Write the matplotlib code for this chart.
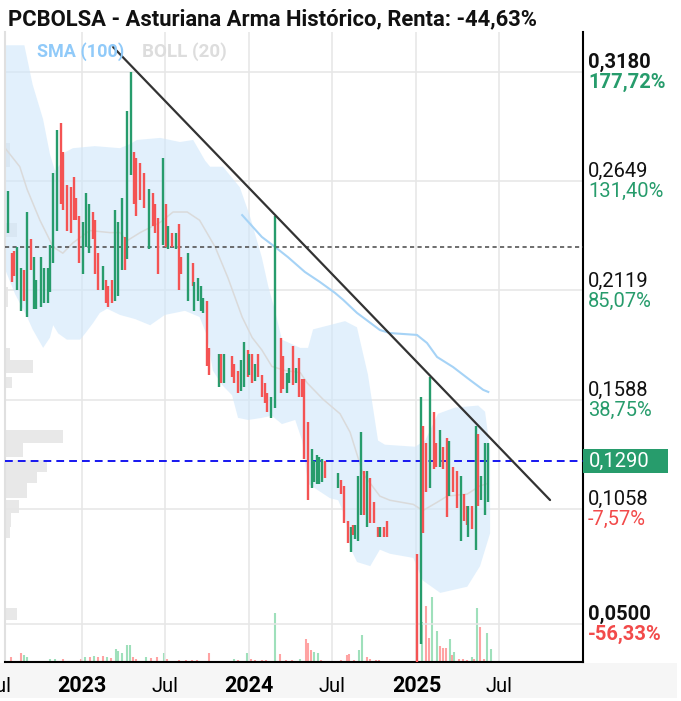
import numpy as np
import pandas as pd
import matplotlib
matplotlib.use('Agg')
import matplotlib.pyplot as plt
import matplotlib.dates as mdates
import matplotlib.transforms as mtransforms
from matplotlib.patches import Rectangle

plt.rcParams['font.family'] = ['Roboto', 'DejaVu Sans']

# ---- velas (fecha, apertura, cierre) ----
candle_dates = [
    '2022-07-24', '2022-08-02', '2022-08-05', '2022-08-12', '2022-08-21', '2022-08-28', '2022-09-03', '2022-09-11',
    '2022-09-19', '2022-09-23', '2022-10-03', '2022-10-10', '2022-10-19', '2022-10-23', '2022-10-30', '2022-11-08',
    '2022-11-16', '2022-11-20', '2022-11-29', '2022-12-07', '2022-12-15', '2022-12-19', '2022-12-25', '2023-01-04',
    '2023-01-10', '2023-01-17', '2023-01-24', '2023-01-29', '2023-02-06', '2023-02-15', '2023-02-22', '2023-02-27',
    '2023-03-07', '2023-03-14', '2023-03-21', '2023-03-29', '2023-04-05', '2023-04-09', '2023-04-17', '2023-04-25',
    '2023-04-29', '2023-05-08', '2023-05-17', '2023-05-28', '2023-06-05', '2023-06-10', '2023-06-17', '2023-06-26',
    '2023-07-04', '2023-07-09', '2023-07-16', '2023-07-25', '2023-08-01', '2023-08-05', '2023-08-21', '2023-08-31',
    '2023-09-03', '2023-09-12', '2023-09-18', '2023-09-23', '2023-10-01', '2023-10-06', '2023-10-27', '2023-11-01',
    '2023-11-08', '2023-11-24', '2023-11-30', '2023-12-07', '2023-12-15', '2023-12-22', '2023-12-29', '2024-01-01',
    '2024-01-08', '2024-01-13', '2024-01-20', '2024-01-29', '2024-02-05', '2024-02-09', '2024-02-18', '2024-02-27',
    '2024-03-10', '2024-03-16', '2024-03-23', '2024-03-29', '2024-04-07', '2024-04-12', '2024-04-19', '2024-04-25',
    '2024-05-01', '2024-05-10', '2024-05-17', '2024-05-22', '2024-05-28', '2024-06-02', '2024-06-08', '2024-06-15',
    '2024-07-14', '2024-07-20', '2024-07-27', '2024-08-04', '2024-08-11', '2024-08-16', '2024-08-20', '2024-08-26',
    '2024-09-02', '2024-09-09', '2024-09-14', '2024-09-22', '2024-10-01', '2024-10-10', '2024-10-13', '2024-10-21',
    '2024-10-29', '2025-01-03', '2025-01-10', '2025-01-16', '2025-01-22', '2025-01-31', '2025-02-08', '2025-02-13',
    '2025-02-22', '2025-03-01', '2025-03-08', '2025-03-14', '2025-03-21', '2025-03-30', '2025-04-08', '2025-04-15',
    '2025-04-21', '2025-04-24', '2025-05-02', '2025-05-11', '2025-05-16', '2025-05-22', '2025-05-31', '2025-06-07',
]
candle_open = [
    .240, .230, .231, .212, .202, .222, .199, .237, .203, .203, .204, .206, .206, .211, .225, .241,
    .293, .279, .263, .262, .267, .257, .248, .220, .233, .230, .250, .246, .230, .212, .217, .214,
    .217, .207, .209, .222, .238, .227, .268, .279, .276, .274, .269, .232, .259, .254, .247, .234,
    .254, .232, .240, .232, .244, .228, .207, .225, .202, .207, .202, .201, .207, .184, .165, .181,
    .167, .180, .176, .173, .163, .165, .183, .171, .181, .168, .181, .171, .167, .162, .150, .155,
    .189, .180, .162, .167, .185, .167, .179, .169, .169, .148, .116, .119, .118, .118, .119, .129,
    .116, .120, .117, .100, .085, .098, .091, .090, .103, .124, .097, .121, .109, .097, .092, .097,
    .100, .084, .040, .146, .138, .116, .153, .138, .126, .136, .140, .112, .126, .124, .090, .113,
    .107, .092, .107, .086, .142, .110, .103, .109,
]
candle_close = [
    .260, .216, .219, .233, .223, .207, .250, .222, .228, .217, .228, .223, .223, .234, .269, .290,
    .254, .251, .241, .240, .246, .246, .225, .245, .259, .254, .237, .220, .212, .224, .206, .204,
    .206, .251, .245, .257, .222, .299, .318, .254, .248, .256, .252, .261, .243, .240, .220, .276,
    .233, .243, .233, .240, .212, .220, .230, .214, .216, .218, .214, .208, .175, .171, .181, .167,
    .181, .170, .167, .162, .178, .187, .170, .181, .167, .176, .170, .160, .157, .153, .160, .248,
    .162, .164, .172, .174, .166, .174, .160, .160, .130, .110, .135, .129, .132, .131, .130, .121,
    .123, .113, .099, .089, .097, .093, .098, .122, .143, .103, .124, .099, .099, .092, .097, .092,
    .092, .025, .160, .094, .114, .170, .125, .126, .144, .125, .102, .139, .114, .106, .122, .100,
    .098, .107, .096, .146, .107, .122, .138, .138,
]

# ---- volumen (altura relativa) ----
vol_dates = [
    '2022-07-30', '2022-08-21', '2022-08-27', '2022-09-03', '2022-10-23', '2022-11-03', '2022-11-20', '2022-12-30',
    '2023-01-08', '2023-01-18', '2023-01-27', '2023-02-05', '2023-02-16', '2023-02-25', '2023-03-05', '2023-03-16',
    '2023-03-21', '2023-03-29', '2023-04-09', '2023-04-16', '2023-04-22', '2023-04-29', '2023-05-21', '2023-06-01',
    '2023-06-14', '2023-06-29', '2023-07-06', '2023-08-01', '2023-08-16', '2023-08-29', '2023-09-09', '2023-10-06',
    '2023-11-29', '2023-12-08', '2023-12-28', '2024-01-05', '2024-01-14', '2024-01-29', '2024-02-07', '2024-02-27',
    '2024-03-09', '2024-03-22', '2024-04-04', '2024-04-22', '2024-05-05', '2024-05-09', '2024-05-16', '2024-05-22',
    '2024-05-31', '2024-06-06', '2024-07-20', '2024-08-02', '2024-08-07', '2024-08-18', '2024-08-29', '2024-09-04',
    '2024-09-15', '2024-09-22', '2024-10-05', '2024-10-11', '2025-01-03', '2025-01-13', '2025-01-22', '2025-01-29',
    '2025-02-04', '2025-02-15', '2025-02-22', '2025-02-28', '2025-03-07', '2025-03-15', '2025-03-20', '2025-03-24',
    '2025-04-04', '2025-04-13', '2025-04-22', '2025-05-03', '2025-05-07', '2025-05-13', '2025-05-20', '2025-05-29',
    '2025-06-04', '2025-06-13',
]
vol_values = [
    5, 9, 7, 5, 3.5, 3.5, 3.5, 3.5, 5, 5, 6, 5, 6, 5, 4.5, 13,
    11.5, 9, 17, 17, 5, 3.5, 5, 4.5, 5, 9, 3.5, 2.5, 2.5, 2.5, 2.5, 9,
    3.5, 2.5, 9, 3.5, 2.5, 2.5, 2.5, 49, 8, 2.5, 2.5, 3.5, 23, 19, 12, 10.5,
    9, 2.5, 2.5, 7, 8, 2.5, 12, 27, 5, 3.5, 2.5, 2.5, 40, 40, 56, 24,
    65, 31, 16, 14, 14, 23, 7, 10.5, 3.5, 3.5, 2.5, 5, 3.5, 54, 35, 3.5,
    29, 13,
]
vol_up = [
    0, 0, 1, 1, 1, 1, 0, 0, 1, 0, 1, 0, 0, 1, 0, 1,
    1, 1, 1, 1, 0, 0, 1, 0, 0, 1, 0, 0, 0, 0, 0, 0,
    1, 0, 1, 0, 0, 0, 0, 1, 0, 0, 0, 1, 0, 0, 0, 1,
    1, 0, 0, 0, 0, 0, 1, 1, 0, 0, 0, 0, 0, 1, 0, 0,
    1, 1, 0, 0, 0, 1, 0, 1, 0, 0, 0, 1, 0, 1, 0, 0,
    1, 1,
]

# ---- bandas de Bollinger (20) ----
boll_up_dates = [
    '2022-07-17', '2022-08-28', '2022-09-15', '2022-10-08', '2022-10-23', '2022-11-03', '2022-11-14', '2022-11-25',
    '2022-12-12', '2023-01-29', '2023-03-25', '2023-04-16', '2023-05-01', '2023-06-21', '2023-08-03', '2023-09-01',
    '2023-09-27', '2023-10-08', '2023-11-05', '2023-12-12', '2024-01-03', '2024-01-29', '2024-02-12', '2024-02-27',
    '2024-03-13', '2024-04-22', '2024-05-09', '2024-05-20', '2024-07-29', '2024-08-24', '2024-09-17', '2024-10-09',
    '2024-10-24', '2024-12-29', '2025-01-20', '2025-02-17', '2025-03-26', '2025-05-16', '2025-05-31', '2025-06-11',
]
boll_up = [
    .331, .331, .312, .295, .278, .270, .273, .279, .281, .282, .281, .283, .285, .286, .284, .285,
    .275, .272, .272, .262, .248, .228, .214, .202, .188, .184, .184, .193, .197, .194, .171, .139,
    .137, .136, .139, .152, .155, .156, .153, .134,
]
boll_low_dates = [
    '2022-07-17', '2022-08-08', '2022-09-03', '2022-09-15', '2022-10-08', '2022-10-23', '2022-10-30', '2022-11-10',
    '2022-11-29', '2022-12-28', '2023-01-08', '2023-01-25', '2023-02-09', '2023-02-25', '2023-03-25', '2023-04-27',
    '2023-05-30', '2023-07-01', '2023-08-14', '2023-09-15', '2023-10-01', '2023-10-14', '2023-11-03', '2023-11-25',
    '2023-12-08', '2023-12-30', '2024-01-29', '2024-02-20', '2024-03-13', '2024-04-11', '2024-04-26', '2024-05-09',
    '2024-06-26', '2024-07-14', '2024-07-29', '2024-08-09', '2024-08-24', '2024-09-22', '2024-10-13', '2024-11-04',
    '2024-12-25', '2025-01-15', '2025-02-22', '2025-04-22', '2025-05-20', '2025-06-11',
]
boll_low = [
    .222, .210, .199, .193, .184, .189, .195, .191, .188, .188, .191, .196, .201, .203, .200, .198,
    .195, .200, .202, .199, .190, .173, .166, .161, .150, .149, .150, .151, .147, .149, .139, .118,
    .111, .110, .102, .087, .080, .078, .086, .084, .082, .071, .065, .068, .078, .094,
]
boll_mid_dates = [
    '2022-07-17', '2022-08-18', '2022-09-03', '2022-10-01', '2022-10-30', '2022-11-20', '2022-12-12', '2023-01-18',
    '2023-03-03', '2023-03-25', '2023-04-09', '2023-05-08', '2023-06-21', '2023-07-19', '2023-08-19', '2023-09-15',
    '2023-10-19', '2023-11-16', '2023-12-17', '2024-01-08', '2024-01-29', '2024-02-20', '2024-03-20', '2024-04-22',
    '2024-05-07', '2024-06-11', '2024-07-18', '2024-08-09', '2024-09-06', '2024-10-13', '2024-11-04', '2024-12-25',
    '2025-01-15', '2025-02-15', '2025-03-09', '2025-04-22', '2025-05-20', '2025-06-04',
]
boll_mid = [
    .281, .272, .261, .246, .233, .230, .235, .241, .240, .240, .236, .240, .245, .250, .250, .246,
    .233, .218, .199, .189, .183, .175, .173, .172, .167, .159, .152, .143, .123, .112, .110, .108,
    .105, .109, .112, .113, .117, .118,
]

# ---- media simple (100) ----
sma_dates = [
    '2023-12-17', '2024-01-29', '2024-02-27', '2024-03-26', '2024-05-02', '2024-06-04', '2024-07-07', '2024-07-25',
    '2024-08-24', '2024-10-13', '2024-11-04', '2025-01-02', '2025-01-24', '2025-02-15', '2025-03-22', '2025-04-28',
    '2025-05-27', '2025-06-07',
]
sma_values = [
    .2485, .2379, .2330, .2281, .2209, .2160, .2107, .2073, .2010, .1927, .1912, .1903, .1864, .1796, .1747, .1684,
    .1636, .1626,
]

# ---- perfil de volumen (izquierda) ----
profile_lo = [.2719, .2379, .2039, .1781, .1718, .1645, .1378, .1310, .1237, .1184, .1111, .1038, .0970, .0917, .0519]
profile_hi = [.2835, .2447, .2136, .1840, .1781, .1699, .1441, .1378, .1296, .1237, .1184, .1101, .1038, .0970, .0577]
profile_vol = [5, 12, 3, 5, 28, 7, 58, 18, 42, 32, 22, 14, 6, 5, 12]

# ---- linea de tendencia y niveles ----
trend_dates = ['2023-03-10', '2025-10-20']
trend_values = [0.3301, 0.1101]
last_price = 0.1290
start_price = 0.2330

# ---- eje de precios ----
price_ticks = [0.3180, 0.2649, 0.2119, 0.1588, 0.1058, 0.0500]
price_labels = ['0,3180', '0,2649', '0,2119', '0,1588', '0,1058', '0,0500']
pct_labels = ['177,72%', '131,40%', '85,07%', '38,75%', '-7,57%', '-56,33%']
year_ticks = ['2023-01-01', '2024-01-01', '2025-01-01']
year_labels = ['2023', '2024', '2025']
jul_ticks = ['2022-07-01', '2023-07-01', '2024-07-01', '2025-07-01']

title = 'PCBOLSA - Asturiana Arma Histórico, Renta: -44,63%'

GREEN = '#279c6c'
RED = '#f45353'
GREEN_VOL = '#9fe0bb'
RED_VOL = '#ffa3a3'

W, H = 681, 701


def d(lst):
    return mdates.date2num(pd.to_datetime(lst))


fig = plt.figure(figsize=(W / 100, H / 100), dpi=100)
fig.patch.set_facecolor('white')

# banda gris de las etiquetas de fechas
fig.patches.append(Rectangle((0, 3 / H), 677 / W, 35 / H, transform=fig.transFigure,
                             facecolor='#f6f6f6', edgecolor='none', zorder=-1))

left, right, top, bottom = 5, 583, 32, 662
rect = [left / W, 1 - bottom / H, (right - left) / W, (bottom - top) / H]

ax_vol = fig.add_axes(rect)
ax_vol.set_axis_off()
ax_prof = fig.add_axes(rect)
ax_prof.set_axis_off()
ax = fig.add_axes(rect)
ax.patch.set_visible(False)

x0 = mdates.date2num(pd.Timestamp('2022-07-16 16:00'))
x1 = mdates.date2num(pd.Timestamp('2025-12-31'))
for a in (ax, ax_vol):
    a.set_xlim(x0, x1)

# volumen
vcol = [GREEN_VOL if u else RED_VOL for u in vol_up]
ax_vol.vlines(d(vol_dates), 0, vol_values, colors=vcol, lw=1.5)
ax_vol.set_ylim(0, bottom - top)

# perfil de volumen
ax_prof.set_xlim(0, right - left)
ax_prof.set_ylim(0.03144, 0.33743)
ax_prof.barh([(a + b) / 2 for a, b in zip(profile_lo, profile_hi)], profile_vol,
             height=[b - a for a, b in zip(profile_lo, profile_hi)], left=0,
             color='#e8e8e8', edgecolor='none')

ax.set_ylim(0.03144, 0.33743)

# rejilla
for p in price_ticks:
    ax.axhline(p, color='#e6e6e6', lw=1.1, zorder=0)
for t in year_ticks + jul_ticks:
    ax.axvline(d([t])[0], color='#e6e6e6', lw=1.1, zorder=0)

# bollinger
bx = np.concatenate([d(boll_up_dates), d(boll_low_dates)[::-1]])
by = np.concatenate([boll_up, boll_low[::-1]])
ax.fill(bx, by, color='#cfe7fb', alpha=0.6, lw=0, zorder=1)
ax.plot(d(boll_mid_dates), boll_mid, color='#dadada', lw=1.1, zorder=2)

# sma 100
ax.plot(d(sma_dates), sma_values, color='#a6d3f6', lw=1.5, zorder=2)

# niveles
ax.axhline(start_price, color='#555555', lw=1.2, dashes=(2.5, 2), zorder=3)
ax.axhline(last_price, color='#1616f0', lw=1.4, dashes=(4, 2.6), zorder=3)

# velas
o = np.array(candle_open)
c = np.array(candle_close)
ccol = [GREEN if cc >= oo else RED for oo, cc in zip(o, c)]
ax.vlines(d(candle_dates), np.minimum(o, c), np.maximum(o, c), colors=ccol, lw=1.7, zorder=4)

# tendencia
ax.plot(d(trend_dates), trend_values, color='#333333', lw=1.6, zorder=5, solid_capstyle='round')

# ejes
ax.set_xticks([])
ax.set_yticks([])
ax.spines['top'].set_visible(False)
ax.spines['left'].set_color('#e0e0e0')
ax.spines['left'].set_linewidth(1.5)
ax.spines['right'].set_color('black')
ax.spines['right'].set_linewidth(1.5)
ax.spines['bottom'].set_color('black')
ax.spines['bottom'].set_linewidth(1.5)

# etiquetas de precio a la derecha
for i, (p, pl, pc) in enumerate(zip(price_ticks, price_labels, pct_labels)):
    bold = 'bold' if i in (0, len(price_ticks) - 1) else 'normal'
    pcol = GREEN if not pc.startswith('-') else '#f24a4a'
    ax.annotate(pl, xy=(1, p), xycoords=('axes fraction', 'data'), xytext=(5, 4),
                textcoords='offset pixels', fontsize=14.5, fontweight=bold, color='#111111',
                va='baseline', ha='left', annotation_clip=False)
    ax.annotate(pc, xy=(1, p), xycoords=('axes fraction', 'data'), xytext=(5, -16),
                textcoords='offset pixels', fontsize=14.5, fontweight=bold, color=pcol,
                va='baseline', ha='left', annotation_clip=False)

# etiqueta del ultimo precio
blend = mtransforms.blended_transform_factory(ax.transAxes, ax.transData)
ax.add_patch(Rectangle((1, last_price - 0.0058), 85 / (right - left), 0.0117, transform=blend,
                       facecolor=GREEN, edgecolor='none', clip_on=False, zorder=6))
ax.annotate('0,1290', xy=(1, last_price), xycoords=('axes fraction', 'data'), xytext=(6, 0),
            textcoords='offset pixels', fontsize=14.5, color='white', va='center', ha='left',
            annotation_clip=False, zorder=7)

# etiquetas de fechas
for t, lab in zip(year_ticks, year_labels):
    ax.annotate(lab, xy=(d([t])[0], 0), xycoords=('data', 'axes fraction'), xytext=(0, -30),
                textcoords='offset pixels', fontsize=15.5, fontweight='bold', ha='center',
                va='baseline', annotation_clip=False)
for t in jul_ticks:
    ax.annotate('Jul', xy=(d([t])[0], 0), xycoords=('data', 'axes fraction'), xytext=(0, -30),
                textcoords='offset pixels', fontsize=14.5, ha='center', va='baseline',
                annotation_clip=False)

# titulo y leyenda
fig.text(8 / W, 1 - 25 / H, title, fontsize=15.8, fontweight='bold', color='#111111', va='baseline')
fig.text(37 / W, 1 - 57 / H, 'SMA (100)', fontsize=13, fontweight='bold', color='#90caf9', va='baseline')
fig.text(142 / W, 1 - 57 / H, 'BOLL (20)', fontsize=13.5, fontweight='bold', color='#dddddd', va='baseline')

fig.savefig('out.png', dpi=100, facecolor='white')
